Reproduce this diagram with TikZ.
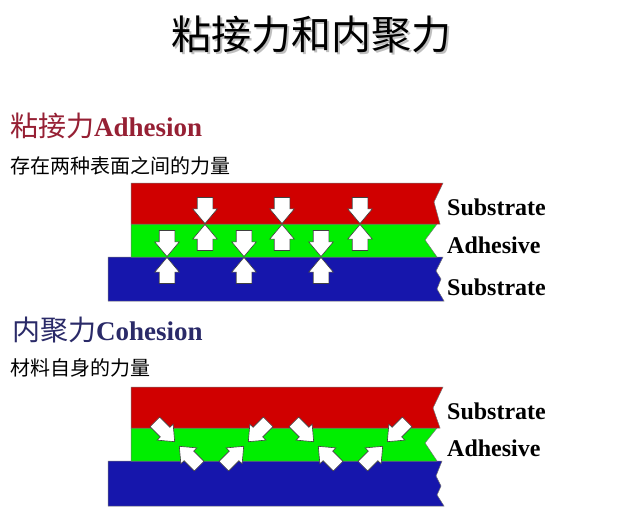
\documentclass[tikz,border=0pt]{standalone}
\usepackage{fontspec}
\setmainfont{Liberation Serif}
\newfontfamily\cjk{Noto Sans CJK SC}
\usetikzlibrary{shapes.arrows}

\definecolor{subred}{RGB}{208,0,0}
\definecolor{glue}{RGB}{0,238,0}
\definecolor{subblue}{RGB}{22,22,172}
\definecolor{adhred}{RGB}{150,32,52}
\definecolor{cohblue}{RGB}{42,42,104}

\tikzset{
  force/.style={single arrow, draw=black!75, fill=white, line width=.6pt,
    minimum height=26pt, minimum width=24pt, inner xsep=0pt, inner ysep=7.5pt,
    single arrow head extend=4.5pt, single arrow tip angle=80, anchor=tip},
  pull/.style={force, minimum height=28pt, minimum width=22pt, inner ysep=6.5pt},
  layer/.style={draw=black!55, line width=.5pt},
  tag/.style={font=\bfseries\fontsize{24}{26}\selectfont, anchor=west, inner sep=0pt},
  head/.style={font=\bfseries\fontsize{27}{30}\selectfont, anchor=west, inner sep=0pt},
  note/.style={font=\cjk\fontsize{20}{22}\selectfont, anchor=west, inner sep=0pt},
}

\begin{document}
\begin{tikzpicture}[x=1pt, y=-1pt]
  \useasboundingbox (0,0) rectangle (624,522);
  % title
  \node[text=black!25, font=\cjk\fontsize{40}{44}\selectfont] (titleshadow) at (313,36) {粘接力和内聚力};
  \node[font=\cjk\fontsize{40}{44}\selectfont] (title) at (311,34) {粘接力和内聚力};

  % adhesion
  \node[head, text=adhred] (adhhead) at (10,126) {{\cjk\mdseries\fontsize{28}{30}\selectfont 粘接力}Adhesion};
  \node[note] (adhnote) at (10,166) {存在两种表面之间的力量};
  \draw[layer, fill=subblue] (108,257) -- (443,257) -- (436,271) -- (441,279) -- (437,289) -- (444,301) -- (108,301) -- cycle;
  \draw[layer, fill=glue] (131,224) -- (437,224) -- (425,240) -- (437,257) -- (131,257) -- cycle;
  \draw[layer, fill=subred] (131,183) -- (443,183) -- (434,202) -- (440,224) -- (131,224) -- cycle;
  \node[tag] (adhtop) at (447,207) {Substrate};
  \node[tag] (adhmid) at (447,245) {Adhesive};
  \node[tag] (adhbot) at (447,287) {Substrate};

  \node[force, rotate=-90] (rdn1) at (205,224) {};
  \node[force, rotate=-90] (rdn2) at (282,224) {};
  \node[force, rotate=-90] (rdn3) at (360,224) {};
  \node[force, rotate=90] (gup1) at (205,224) {};
  \node[force, rotate=90] (gup2) at (282,224) {};
  \node[force, rotate=90] (gup3) at (360,224) {};
  \node[force, rotate=-90] (gdn1) at (167,257) {};
  \node[force, rotate=-90] (gdn2) at (244,257) {};
  \node[force, rotate=-90] (gdn3) at (321,257) {};
  \node[force, rotate=90] (bup1) at (167,257) {};
  \node[force, rotate=90] (bup2) at (244,257) {};
  \node[force, rotate=90] (bup3) at (321,257) {};

  % cohesion
  \node[head, text=cohblue] (cohhead) at (12,330) {{\cjk\mdseries\fontsize{28}{30}\selectfont 内聚力}Cohesion};
  \node[note] (cohnote) at (10,368) {材料自身的力量};
  \draw[layer, fill=subblue] (108,461) -- (442,461) -- (436,476) -- (441,486) -- (437,495) -- (444,506) -- (108,506) -- cycle;
  \draw[layer, fill=glue] (131,428) -- (437,428) -- (425,443) -- (437,461) -- (131,461) -- cycle;
  \draw[layer, fill=subred] (131,387) -- (443,387) -- (433,408) -- (440,428) -- (131,428) -- cycle;
  \node[tag] (cohtop) at (447,411) {Substrate};
  \node[tag] (cohmid) at (447,448) {Adhesive};

  \node[pull, rotate=-45] (pa1) at (175,442) {};
  \node[pull, rotate=135] (pb1) at (179,446) {};
  \node[pull, rotate=45] (pa2) at (244,446) {};
  \node[pull, rotate=-135] (pb2) at (248,442) {};
  \node[pull, rotate=-45] (pa3) at (314,442) {};
  \node[pull, rotate=135] (pb3) at (318,446) {};
  \node[pull, rotate=45] (pa4) at (383,446) {};
  \node[pull, rotate=-135] (pb4) at (387,442) {};
\end{tikzpicture}
\end{document}
